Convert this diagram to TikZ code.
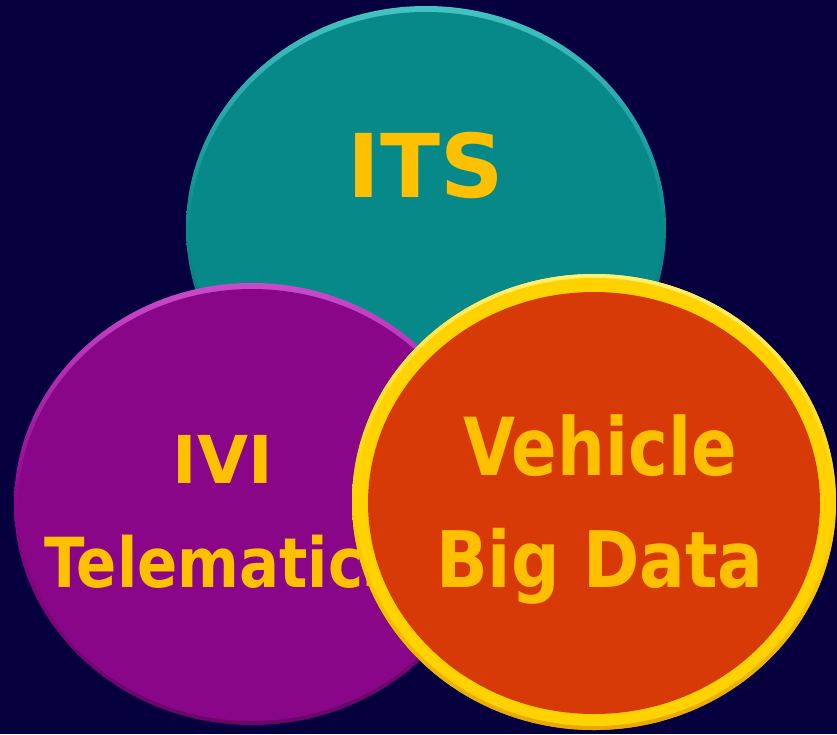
\documentclass[tikz,border=0pt]{standalone}
\usepackage{fontspec}
\setmainfont{DejaVu Sans}
\definecolor{bg}{HTML}{06003F}
\definecolor{tealc}{HTML}{07898A}
\definecolor{tealhi}{HTML}{45C2C2}
\definecolor{teallo}{HTML}{056B6C}
\definecolor{purc}{HTML}{8A0689}
\definecolor{purhi}{HTML}{C94BCB}
\definecolor{purlo}{HTML}{6A0569}
\definecolor{orac}{HTML}{D73A06}
\definecolor{ringc}{HTML}{FFD200}
\definecolor{ringhi}{HTML}{FFF070}
\definecolor{ringlo}{HTML}{E8A800}
\definecolor{txt}{HTML}{FFC000}
\begin{document}
\begin{tikzpicture}[x=1pt,y=-1pt,
  lbl/.style={text=txt, inner sep=0pt, anchor=base},
  disc/.style={fill=#1}]
\fill[bg] (0,0) rectangle (837,734);
\useasboundingbox (0,0) rectangle (837,734);
% ITS circle
\shade[top color=tealhi, bottom color=teallo, middle color=tealc] (426,228) ellipse [x radius=240, y radius=222];
\fill[disc=tealc] (426,229) ellipse [x radius=236, y radius=217];
% IVI circle
\shade[top color=purhi, bottom color=purlo, middle color=purc] (252,504) ellipse [x radius=238, y radius=221];
\fill[disc=purc] (252,505) ellipse [x radius=234, y radius=216];
% Vehicle Big Data circle
\shade[top color=ringhi, bottom color=ringlo, middle color=ringc] (594,502) ellipse [x radius=242, y radius=228];
\fill[disc=ringc] (594,502) ellipse [x radius=238, y radius=224];
\fill[disc=orac] (594,503) ellipse [x radius=226, y radius=211];
% labels
\node[lbl, font=\bfseries\fontsize{88}{96}\selectfont] (its) at (426,197) {ITS};
\node[lbl, font=\bfseries\fontsize{66}{72}\selectfont] (ivi) at (223,483) {IVI};
\node[lbl, anchor=base west, font=\bfseries\fontsize{69}{76}\selectfont] (tele) at (44,587) {\scalebox{0.86}[1]{Telematics}};
% redraw orange on top of the Telematics text overflow
\begin{scope}
\shade[top color=ringhi, bottom color=ringlo, middle color=ringc] (594,502) ellipse [x radius=242, y radius=228];
\fill[disc=ringc] (594,502) ellipse [x radius=238, y radius=224];
\fill[disc=orac] (594,503) ellipse [x radius=226, y radius=211];
\end{scope}
\node[lbl, font=\bfseries\fontsize{80}{88}\selectfont] (veh) at (600,475) {\scalebox{0.84}[1]{Vehicle}};
\node[lbl, font=\bfseries\fontsize{78}{86}\selectfont] (big) at (600,587) {\scalebox{0.87}[1]{Big Data}};
\end{tikzpicture}
\end{document}
